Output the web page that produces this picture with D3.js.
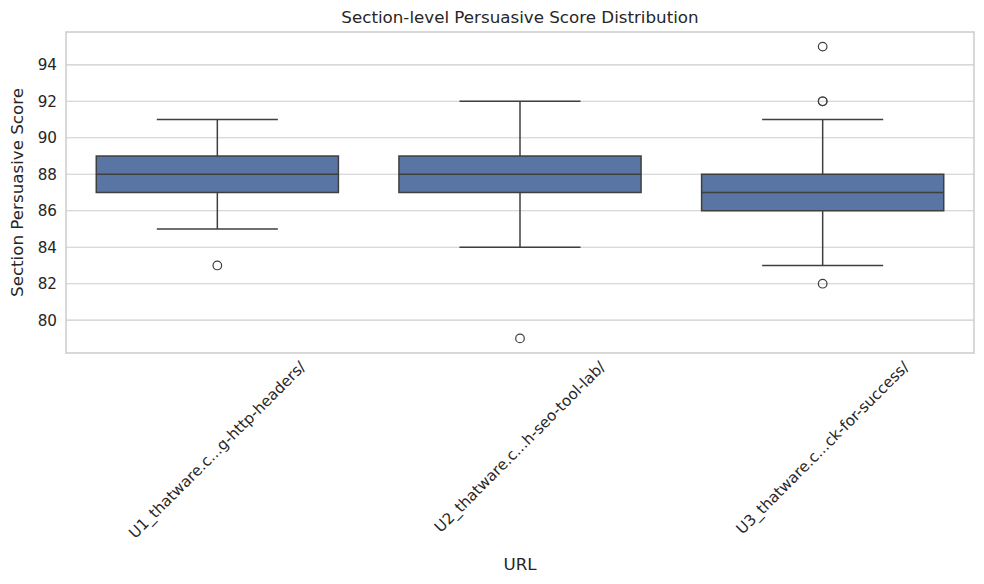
<!DOCTYPE html>
<html>
<head>
<meta charset="utf-8">
<script src="https://cdn.jsdelivr.net/npm/d3@7"></script>
<style>
  body { margin: 0; background: #fff; }
  text { font-family: 'DejaVu Sans', sans-serif; fill: #262626; }
</style>
</head>
<body>
<svg id="chart" width="984" height="584"></svg>
<script>
// box stats
let urls = ['U1_thatware.c...g-http-headers/', 'U2_thatware.c...h-seo-tool-lab/', 'U3_thatware.c...ck-for-success/']
let whiskerLow = [85, 84, 83]
let q1 = [87, 87, 86]
let medians = [88, 88, 87]
let q3 = [89, 89, 88]
let whiskerHigh = [91, 92, 91]
let outliers = [[83], [79], [95, 92, 92, 82]]
let yTicks = [80, 82, 84, 86, 88, 90, 92, 94]

let svg = d3.select('#chart')
let margin = {left: 66, right: 10, top: 32, bottom: 231}
let W = 984, H = 584
let plotW = W - margin.left - margin.right
let plotH = H - margin.top - margin.bottom

let x = d3.scaleBand().domain(urls).range([margin.left, margin.left + plotW]).paddingInner(0).paddingOuter(0)
let y = d3.scaleLinear().domain([78.2, 95.8]).range([margin.top + plotH, margin.top])

let lineCol = '#3f3f3f'
let boxCol = '#5875a4'
let tickFont = 15.2

// grid
svg.append('g').selectAll('line')
    .data(yTicks)
    .enter()
    .append('line')
    .attr('x1', margin.left).attr('x2', margin.left + plotW)
    .attr('y1', d => y(d)).attr('y2', d => y(d))
    .attr('stroke', '#cccccc').attr('stroke-width', 1.1)

// y axis
let yAxis = svg.append('g')
    .attr('transform', 'translate(' + margin.left + ',0)')
    .call(d3.axisLeft(y).tickValues(yTicks).tickSize(0).tickPadding(9))
yAxis.select('.domain').remove()
yAxis.selectAll('text').style('font-size', tickFont + 'px').style('fill', '#262626')

// x axis
let xAxis = svg.append('g')
    .attr('transform', 'translate(0,' + (margin.top + plotH) + ')')
    .call(d3.axisBottom(x).tickSize(0).tickPadding(0))
xAxis.select('.domain').remove()
xAxis.selectAll('text')
    .style('font-size', tickFont + 'px').style('fill', '#262626')
    .attr('dy', 0)
    .attr('text-anchor', 'middle')
    .attr('dominant-baseline', 'central')
    .each(function(d) {
        let len = this.getComputedTextLength()
        let ext = (len + tickFont) / Math.SQRT2
        let cy = 6 + ext / 2
        d3.select(this).attr('transform', 'translate(0,' + cy + ') rotate(-45)')
    })

let bw = x.bandwidth() * 0.8
let boxes = svg.append('g')
urls.forEach((u, i) => {
    let cx = x(u) + x.bandwidth() / 2
    let g = boxes.append('g')
    // whiskers
    g.append('line').attr('x1', cx).attr('x2', cx).attr('y1', y(q3[i])).attr('y2', y(whiskerHigh[i]))
        .attr('stroke', lineCol).attr('stroke-width', 1.5)
    g.append('line').attr('x1', cx).attr('x2', cx).attr('y1', y(q1[i])).attr('y2', y(whiskerLow[i]))
        .attr('stroke', lineCol).attr('stroke-width', 1.5)
    g.append('line').attr('x1', cx - bw / 4).attr('x2', cx + bw / 4).attr('y1', y(whiskerHigh[i])).attr('y2', y(whiskerHigh[i]))
        .attr('stroke', lineCol).attr('stroke-width', 1.5)
    g.append('line').attr('x1', cx - bw / 4).attr('x2', cx + bw / 4).attr('y1', y(whiskerLow[i])).attr('y2', y(whiskerLow[i]))
        .attr('stroke', lineCol).attr('stroke-width', 1.5)
    // box
    g.append('rect')
        .attr('x', cx - bw / 2).attr('width', bw)
        .attr('y', y(q3[i])).attr('height', y(q1[i]) - y(q3[i]))
        .attr('fill', boxCol).attr('stroke', lineCol).attr('stroke-width', 1.5)
    g.append('line').attr('x1', cx - bw / 2).attr('x2', cx + bw / 2).attr('y1', y(medians[i])).attr('y2', y(medians[i]))
        .attr('stroke', lineCol).attr('stroke-width', 1.5)
    // fliers
    g.selectAll('circle')
        .data(outliers[i])
        .enter()
        .append('circle')
        .attr('cx', cx).attr('cy', d => y(d)).attr('r', 4.3)
        .attr('fill', 'none').attr('stroke', lineCol).attr('stroke-width', 1.2)
})

// frame
svg.append('rect')
    .attr('x', margin.left).attr('y', margin.top)
    .attr('width', plotW).attr('height', plotH)
    .attr('fill', 'none').attr('stroke', '#cccccc').attr('stroke-width', 1.5)

// title and labels
svg.append('text')
    .attr('x', margin.left + plotW / 2).attr('y', 23)
    .attr('text-anchor', 'middle')
    .style('font-size', '16.7px')
    .text('Section-level Persuasive Score Distribution')

svg.append('text')
    .attr('x', margin.left + plotW / 2).attr('y', 570)
    .attr('text-anchor', 'middle')
    .style('font-size', '16.7px')
    .text('URL')

svg.append('text')
    .attr('transform', 'translate(23,' + (margin.top + plotH / 2) + ') rotate(-90)')
    .attr('text-anchor', 'middle')
    .style('font-size', '16.7px')
    .text('Section Persuasive Score')
</script>
</body>
</html>
